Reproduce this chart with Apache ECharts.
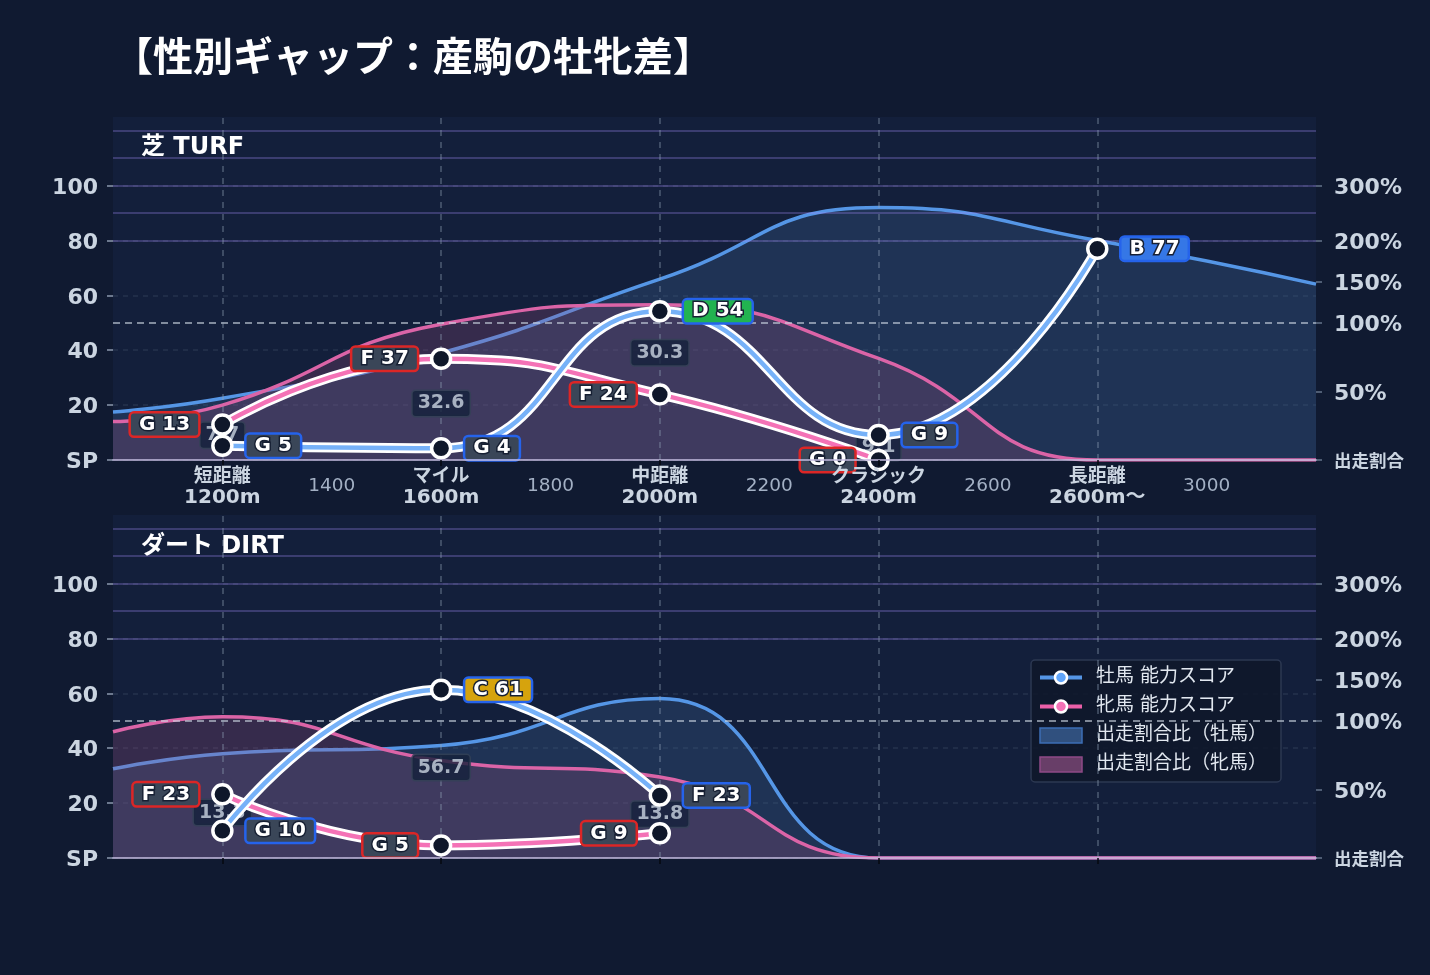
<!DOCTYPE html>
<html lang="ja">
<head>
<meta charset="UTF-8">
<title>性別ギャップ：産駒の牡牝差</title>
<script src="https://cdn.jsdelivr.net/npm/echarts@6/dist/echarts.min.js"></script>
<style>
  html, body { margin: 0; padding: 0; background: #101a31; }
  #main { width: 1430px; height: 975px; }
</style>
</head>
<body>
<div id="main"></div>
<script>
// 距離区分
var distX = [1200, 1600, 2000, 2400, 2800];
var distName = ['短距離', 'マイル', '中距離', 'クラシック', '長距離'];
var distSub = ['1200m', '1600m', '2000m', '2400m', '2600m〜'];
var xTicks = [1200, 1400, 1600, 1800, 2000, 2200, 2400, 2600, 2800, 3000];

// 能力スコア（牡馬 / 牝馬）
var turfMale = [5.2, 4.3, 54.2, 9.1, 77.0];
var turfFemale = [12.9, 36.9, 23.9, 0.0, null];
var dirtMale = [9.9, 61.3, 22.8, null, null];
var dirtFemale = [23.2, 4.6, 9.0, null, null];

// 出走割合比（%）
var ratioX = [1000, 1200, 1600, 2000, 2400, 2800, 3200];
var turfMaleRatio = [35, 45, 78, 153, 260, 200, 147];
var turfFemaleRatio = [28, 40, 99, 122, 74, 0, 0];
var dirtMaleRatio = [65, 76, 82, 127, 0, 0, 0];
var dirtFemaleRatio = [92, 105, 71, 59, 0, 0, 0];

// 軸
var leftTicks = [0, 20, 40, 60, 80, 100];
var ratioTicks = [0, 50, 100, 150, 200, 300];
var ratioPos = [0, 25, 50, 65, 80, 100];
var ratioLabels = ['出走割合', '50%', '100%', '150%', '200%', '300%'];
var bandLines = [80, 90, 100, 110, 120];

// 評価ランク
var gradeMin = [90, 80, 70, 60, 50, 40, 20, 0];
var gradeName = ['S', 'A', 'B', 'C', 'D', 'E', 'F', 'G'];
var gradeBg = ['#e11d48', '#f97316', '#3577e6', '#d6a30d', '#22b350', '#3a4658', '#3a4658', '#3a4658'];

var FONT = "'DejaVu Sans', 'Noto Sans CJK JP', sans-serif";
var CJK = "'Noto Sans CJK JP', sans-serif";

function ratioToPos(r) {
  for (var i = 1; i < ratioTicks.length; i++) {
    if (r <= ratioTicks[i]) {
      var t = (r - ratioTicks[i - 1]) / (ratioTicks[i] - ratioTicks[i - 1]);
      return ratioPos[i - 1] + t * (ratioPos[i] - ratioPos[i - 1]);
    }
  }
  var n = ratioTicks.length - 1;
  return ratioPos[n] + (r - ratioTicks[n]) * (ratioPos[n] - ratioPos[n - 1]) / (ratioTicks[n] - ratioTicks[n - 1]);
}

function gradeOf(v) {
  for (var i = 0; i < gradeMin.length; i++) if (v >= gradeMin[i]) return i;
  return gradeMin.length - 1;
}

function ratioPoints(vals) {
  return vals.map(function (r, i) { return [ratioX[i], ratioToPos(r)]; });
}

function scorePoints(vals) {
  var out = [];
  vals.forEach(function (v, i) {
    if (v === null) return;
    var g = gradeOf(v);
    out.push({
      value: [distX[i], v],
      label: { formatter: gradeName[g] + ' ' + Math.round(v), backgroundColor: gradeBg[g] }
    });
  });
  return out;
}

function gapPoints(m, f) {
  var out = [];
  m.forEach(function (v, i) {
    if (v === null || f[i] === null) return;
    out.push({ value: [distX[i], (v + f[i]) / 2], label: { formatter: Math.abs(v - f[i]).toFixed(1) } });
  });
  return out;
}

function panelSeries(gi, male, female, maleRatio, femaleRatio) {
  var xi = gi, yi = gi * 2;
  var markData = [];
  bandLines.forEach(function (v) {
    markData.push({ yAxis: v, lineStyle: { color: 'rgba(167,139,250,0.28)', width: 2, type: 'solid' } });
  });
  markData.push({ yAxis: ratioToPos(100), lineStyle: { color: 'rgba(203,213,225,0.6)', width: 2, type: [7, 5] } });
  distX.forEach(function (x) {
    markData.push({ xAxis: x, lineStyle: { color: 'rgba(148,163,184,0.34)', width: 2, type: [6, 6] } });
  });

  var scoreLabel = {
    show: true, distance: 13, color: '#fff', fontSize: 20, lineHeight: 20, fontWeight: 'bold', fontFamily: FONT,
    textBorderColor: '#172033', textBorderWidth: 3, padding: [2, 8, 0, 8],
    borderWidth: 2.5, borderRadius: 3
  };

  return [
    {
      name: '出走割合比（牡馬）', type: 'line', xAxisIndex: xi, yAxisIndex: yi, z: 1,
      smooth: true, showSymbol: false, silent: true,
      data: ratioPoints(maleRatio),
      lineStyle: { color: '#5596e6', width: 3.5 },
      itemStyle: { color: '#5596e6' },
      areaStyle: { color: 'rgba(59,98,146,0.3)', opacity: 1 }
    },
    {
      name: '出走割合比（牝馬）', type: 'line', xAxisIndex: xi, yAxisIndex: yi, z: 2,
      smooth: true, showSymbol: false, silent: true,
      data: ratioPoints(femaleRatio),
      lineStyle: { color: '#db64a7', width: 3.5 },
      itemStyle: { color: '#db64a7' },
      areaStyle: { color: 'rgba(159,79,129,0.25)', opacity: 1 },
      markLine: { silent: true, symbol: 'none', label: { show: false }, data: markData }
    },
    {
      name: '_gap', type: 'scatter', xAxisIndex: xi, yAxisIndex: yi, z: 6,
      symbolSize: 1, itemStyle: { color: 'rgba(0,0,0,0)' }, silent: true,
      data: gapPoints(male, female),
      label: {
        show: true, position: 'inside', color: '#cbd5e1', fontSize: 19, lineHeight: 19, fontWeight: 'bold', fontFamily: FONT,
        backgroundColor: '#14203b', borderColor: '#334155', borderWidth: 1.5, borderRadius: 3, padding: [4, 5, 2, 5]
      }
    },
    {
      name: '_outlineF', type: 'line', xAxisIndex: xi, yAxisIndex: yi, z: 7,
      smooth: true, showSymbol: false, silent: true,
      data: scorePoints(female).map(function (d) { return d.value; }),
      lineStyle: { color: '#ffffff', width: 10 }
    },
    {
      name: '牝馬 能力スコア', type: 'line', xAxisIndex: xi, yAxisIndex: yi, z: 8,
      smooth: true, symbol: 'circle', symbolSize: 19,
      data: scorePoints(female),
      lineStyle: { color: '#f472b6', width: 4.5 },
      itemStyle: { color: '#0f172a', borderColor: '#ffffff', borderWidth: 3.5 },
      label: Object.assign({}, scoreLabel, { position: 'left', borderColor: '#dc2626' })
    },
    {
      name: '_outlineM', type: 'line', xAxisIndex: xi, yAxisIndex: yi, z: 9,
      smooth: true, showSymbol: false, silent: true,
      data: scorePoints(male).map(function (d) { return d.value; }),
      lineStyle: { color: '#ffffff', width: 10 }
    },
    {
      name: '牡馬 能力スコア', type: 'line', xAxisIndex: xi, yAxisIndex: yi, z: 10,
      smooth: true, symbol: 'circle', symbolSize: 19,
      data: scorePoints(male),
      lineStyle: { color: '#76b1f8', width: 4.5 },
      itemStyle: { color: '#0f172a', borderColor: '#ffffff', borderWidth: 3.5 },
      label: Object.assign({}, scoreLabel, { position: 'right', borderColor: '#2563eb' })
    }
  ];
}

function xAxisFor(gi, showLabels) {
  return {
    gridIndex: gi, type: 'value', min: 1000, max: 3200, interval: 200, z: 20,
    axisLine: { show: true, onZero: false, lineStyle: { color: '#c4bce0', width: 1.5 } },
    axisTick: { show: true, customValues: distX, length: 6, lineStyle: { color: '#05080f', width: 1.5 } },
    splitLine: { show: false },
    axisLabel: {
      show: showLabels, customValues: xTicks, margin: 3, fontFamily: FONT,
      formatter: function (v) {
        var i = distX.indexOf(v);
        if (i >= 0) return '{n|' + distName[i] + '}\n{d|' + distSub[i] + '}';
        return '{p|' + v + '}';
      },
      rich: {
        n: { fontSize: 19, fontWeight: 'bold', color: '#cbd5e1', lineHeight: 23, fontFamily: CJK },
        d: { fontSize: 20, fontWeight: 'bold', color: '#cbd5e1', lineHeight: 23, fontFamily: FONT },
        p: { fontSize: 18.5, color: '#a3b0c4', lineHeight: 46, fontFamily: FONT }
      }
    }
  };
}

function yAxesFor(gi) {
  return [
    {
      gridIndex: gi, type: 'value', min: 0, max: 125, interval: 20, position: 'left',
      axisLine: { show: false },
      axisTick: { show: true, customValues: leftTicks, length: 6, lineStyle: { color: '#8b98ad', width: 1.5 } },
      axisLabel: {
        customValues: leftTicks, margin: 15,
        formatter: function (v) { return '{v|' + (v === 0 ? 'SP' : String(v)) + '}'; },
        rich: { v: { color: '#cbd5e1', fontSize: 22, fontWeight: 'bold', fontFamily: FONT, padding: [5, 0, 0, 0] } }
      },
      splitLine: { show: true, lineStyle: { color: 'rgba(148,163,184,0.15)', width: 1.5, type: [5, 5] } }
    },
    {
      gridIndex: gi, type: 'value', min: 0, max: 125, position: 'right',
      axisLine: { show: false },
      axisTick: { show: true, customValues: ratioPos, length: 6, lineStyle: { color: '#64748b', width: 1.5 } },
      axisLabel: {
        customValues: ratioPos, margin: 18, color: '#cbd5e1', fontSize: 22, fontWeight: 'bold', fontFamily: FONT,
        formatter: function (v) {
          var i = ratioPos.indexOf(v);
          return i === 0 ? '{s|' + ratioLabels[i] + '}' : '{v|' + ratioLabels[i] + '}';
        },
        rich: {
          v: { color: '#cbd5e1', fontSize: 22, fontWeight: 'bold', fontFamily: FONT, padding: [5, 0, 0, 0] },
          s: { fontSize: 17.5, fontWeight: 'bold', color: '#cbd5e1', fontFamily: CJK }
        }
      },
      splitLine: { show: false }
    }
  ];
}

var chart = echarts.init(document.getElementById('main'));
var option = {
  backgroundColor: '#101a31',
  animation: false,
  textStyle: { fontFamily: FONT },
  title: [
    { text: '【性別ギャップ：産駒の牡牝差】', left: 108, top: 31,
      textStyle: { color: '#ffffff', fontSize: 40, fontWeight: 'bold', fontFamily: CJK } },
    { text: '芝 TURF', left: 136, top: 131,
      textStyle: { color: '#ffffff', fontSize: 24, fontWeight: 'bold', fontFamily: FONT } },
    { text: 'ダート DIRT', left: 136, top: 530,
      textStyle: { color: '#ffffff', fontSize: 24, fontWeight: 'bold', fontFamily: FONT } }
  ],
  legend: {
    orient: 'vertical', left: 1031, top: 660, padding: [8, 14, 8, 7], itemGap: 10,
    itemWidth: 42, itemHeight: 15,
    backgroundColor: 'rgba(15,23,42,0.85)', borderColor: '#2c3852', borderWidth: 1.5, borderRadius: 4,
    textStyle: { color: '#e2e8f0', fontSize: 19, fontFamily: FONT, padding: [0, 0, 0, 9] },
    data: [
      { name: '牡馬 能力スコア', itemStyle: { color: '#60a5fa', borderColor: '#ffffff', borderWidth: 2.5 },
        lineStyle: { color: '#5596e6', width: 4 } },
      { name: '牝馬 能力スコア', itemStyle: { color: '#f472b6', borderColor: '#ffffff', borderWidth: 2.5 },
        lineStyle: { color: '#ec5fa8', width: 4 } },
      { name: '出走割合比（牡馬）', icon: 'rect',
        itemStyle: { color: '#30507e', borderColor: '#3d6db5', borderWidth: 1.5 } },
      { name: '出走割合比（牝馬）', icon: 'rect',
        itemStyle: { color: '#683e68', borderColor: '#8e4a86', borderWidth: 1.5 } }
    ]
  },
  grid: [
    { left: 113, right: 114, top: 117, height: 343, show: true, backgroundColor: '#131f3b', borderWidth: 0 },
    { left: 113, right: 114, top: 515, height: 343, show: true, backgroundColor: '#131f3b', borderWidth: 0 }
  ],
  xAxis: [xAxisFor(0, true), xAxisFor(1, false)],
  yAxis: yAxesFor(0).concat(yAxesFor(1)),
  series: panelSeries(0, turfMale, turfFemale, turfMaleRatio, turfFemaleRatio)
    .concat(panelSeries(1, dirtMale, dirtFemale, dirtMaleRatio, dirtFemaleRatio))
};
chart.setOption(option);
</script>
</body>
</html>
